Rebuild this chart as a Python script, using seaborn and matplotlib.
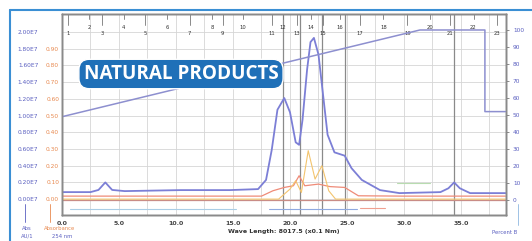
import numpy as np
import pandas as pd
import seaborn as sns
import matplotlib.pyplot as plt
from matplotlib.transforms import blended_transform_factory

# retention time (min) and UV absorbance (AU, x1e7 scale)
uv_time = [0.0, 2.5, 3.2, 3.8, 4.4, 5.5, 10.4, 14.7, 17.2, 17.9, 18.4, 18.9, 19.5,
           20.0, 20.5, 20.8, 21.1, 21.5, 21.8, 22.1, 22.5, 22.9, 23.3, 23.9, 24.8,
           25.4, 26.3, 27.9, 29.6, 33.2, 33.9, 34.4, 34.9, 35.8, 38.9]
uv_abs = [0.084, 0.084, 0.11, 0.20, 0.11, 0.096, 0.108, 0.108, 0.12, 0.23, 0.59, 1.07, 1.21,
          1.04, 0.68, 0.65, 0.95, 1.55, 1.88, 1.93, 1.73, 1.25, 0.77, 0.56, 0.52,
          0.37, 0.23, 0.108, 0.072, 0.084, 0.13, 0.20, 0.13, 0.072, 0.072]

# second channel (orange axis)
ch2_time = [0.0, 17.5, 18.5, 19.5, 20.3, 20.8, 21.3, 22.5, 23.5, 24.8, 26.0, 30.0, 38.9]
ch2_abs = [0.018, 0.018, 0.05, 0.07, 0.08, 0.14, 0.08, 0.09, 0.075, 0.07, 0.02, 0.018, 0.018]

ch3_time = [0.0, 19.0, 20.0, 20.5, 21.0, 21.6, 22.2, 22.8, 23.4, 24.0, 38.9]
ch3_abs = [0.0, 0.0, 0.06, 0.11, 0.04, 0.29, 0.12, 0.20, 0.05, 0.0, 0.0]

# gradient, percent B
grad_time = [0.0, 31.4, 37.1, 37.1, 38.9]
grad_pct = [49, 100, 100, 52, 52]

# fraction marks along the top
frac_time = [0.5, 2.4, 3.5, 5.4, 7.3, 9.2, 11.2, 13.2, 14.1, 15.9, 18.4, 19.4,
             20.6, 21.8, 22.9, 24.4, 26.1, 28.2, 30.3, 32.3, 34.0, 36.1, 38.2]
frac_label = [str(i) for i in range(1, len(frac_time) + 1)]

cut_time = [19.4, 20.9, 22.8, 24.8, 34.4]

left_ticks = [i * 0.2 for i in range(11)]
left_labels = ["%.2fE7" % v for v in left_ticks]
orange_labels = ["%.2f" % (v / 2) for v in left_ticks[:-1]]
right_ticks = list(range(0, 101, 10))
x_ticks = [0, 5, 10, 15, 20, 25, 30, 35]

sns.set_style("white")
plt.rcParams['font.family'] = ['DejaVu Sans']

fig = plt.figure(figsize=(5.32, 2.41), dpi=100)
ax = fig.add_axes([62 / 532, 1 - 215 / 241, 444 / 532, 201 / 241])
ymin, ymax = -0.19, 2.216
ax.set_xlim(0, 38.95)
ax.set_ylim(ymin, ymax)

# grid
for t in np.arange(0, 39, 2.5):
    ax.axvline(t, color="#d6d6d6", lw=0.6, zorder=0)
for v in left_ticks:
    ax.axhline(v, color="#d6d6d6", lw=0.6, zorder=0)
for t in cut_time:
    ax.axvline(t, color="#8a8a8a", lw=0.9, zorder=1)

ax2 = ax.twinx()
ax2.set_ylim(ymin / 2, ymax / 2)
ax3 = ax.twinx()
ax3.set_ylim(-8.8, 109.4)

uv = pd.DataFrame({"t": uv_time, "a": uv_abs})
sns.lineplot(data=uv, x="t", y="a", ax=ax, color="#7c7fd6", lw=1.3, estimator=None, sort=False, zorder=5)
sns.lineplot(x=ch2_time, y=ch2_abs, ax=ax2, color="#ef8b78", lw=0.9, estimator=None, sort=False)
sns.lineplot(x=ch3_time, y=ch3_abs, ax=ax2, color="#f3c46e", lw=0.8, estimator=None, sort=False)
sns.lineplot(x=grad_time, y=grad_pct, ax=ax3, color="#8d8fcf", lw=1.1, estimator=None, sort=False)
ax.axhline(-0.01, color="#c98c86", lw=0.9)
sns.lineplot(x=[0.7, 15.3], y=[-0.12, -0.12], ax=ax, color="#a9cde6", lw=0.8)
sns.lineplot(x=[18.2, 25.9], y=[-0.12, -0.12], ax=ax, color="#8fa9e0", lw=0.8)
sns.lineplot(x=[26.1, 28.3], y=[-0.11, -0.11], ax=ax, color="#f0a090", lw=0.8)
sns.lineplot(x=[29.4, 32.3], y=[0.19, 0.19], ax=ax, color="#b8dcb0", lw=0.8)

# frame
for a in (ax, ax2, ax3):
    for s in a.spines.values():
        s.set_color("#8a8a8a")
        s.set_linewidth(1.0)

ax.set_xticks(x_ticks)
ax.set_xticklabels(["%.1f" % x for x in x_ticks], fontsize=4.5, color="#444444", fontweight="bold")
ax.tick_params(axis="x", length=3, width=0.8, color="#777777", pad=1.5)
ax.set_yticks(left_ticks)
ax.set_yticklabels(left_labels, fontsize=4.2, color="#5a5fc0")
ax.tick_params(axis="y", length=0, pad=17)
ax.set_xlabel("Wave Length: 8017.5 (x0.1 Nm)", fontsize=4.5, color="#333333",
              fontweight="bold", labelpad=2)
ax.set_ylabel("")

ax2.yaxis.tick_left()
ax2.set_yticks([v / 2 for v in left_ticks[:-1]])
ax2.set_yticklabels(orange_labels, fontsize=4.2, color="#e8894f")
ax2.tick_params(axis="y", length=0, pad=2)
ax2.set_ylabel("")

ax3.set_yticks(right_ticks)
ax3.set_yticklabels([str(v) for v in right_ticks], fontsize=4.2, color="#5a5fc0")
ax3.tick_params(axis="y", length=2, width=0.6, color="#777777", pad=3)
ax3.set_ylabel("")

# fraction labels on top
tr = blended_transform_factory(ax.transData, ax.transAxes)
for i, (t, lab) in enumerate(zip(frac_time, frac_label)):
    yy = 0.985 if i % 2 else 0.955
    ax.plot([t, t], [1.0, yy - 0.012], transform=tr, color="#777777", lw=0.6, clip_on=False)
    ax.text(t, yy - 0.05, lab, transform=tr, fontsize=3.8, ha="center", va="center", color="#333333")

# axis captions
fig.text(27 / 532, 1 - 228 / 241, "Abs", fontsize=3.8, color="#5a5fc0", ha="center", va="center")
fig.text(27 / 532, 1 - 236 / 241, "AU/1", fontsize=3.8, color="#5a5fc0", ha="center", va="center")
fig.text(60 / 532, 1 - 228 / 241, "Absorbance", fontsize=3.8, color="#e8894f", ha="center", va="center")
fig.text(62 / 532, 1 - 236 / 241, "254 nm", fontsize=3.8, color="#5a5fc0", ha="center", va="center")
fig.text(505 / 532, 1 - 232 / 241, "Percent B", fontsize=3.8, color="#5a5fc0", ha="center", va="center")
fig.add_artist(plt.Line2D([25 / 532, 25 / 532], [1 - 204 / 241, 1 - 222 / 241], color="#5a5fc0", lw=0.6))
fig.add_artist(plt.Line2D([50 / 532, 50 / 532], [1 - 204 / 241, 1 - 222 / 241], color="#e8894f", lw=0.6))
fig.add_artist(plt.Line2D([518 / 532, 518 / 532], [1 - 204 / 241, 1 - 225 / 241], color="#8fb8e0", lw=0.6))

# outer border
fig.add_artist(plt.Line2D([10 / 532, 1.0], [1 - 10 / 241, 1 - 10 / 241], color="#3b8fd4", lw=1.5))
fig.add_artist(plt.Line2D([10 / 532, 10 / 532], [0.0, 1 - 10 / 241], color="#3b8fd4", lw=1.5))

# badge
fig.text(181 / 532, 1 - 74 / 241, "NATURAL PRODUCTS", fontsize=13.6, fontweight="bold",
         family=["Open Sans", "DejaVu Sans"], color="white", ha="center", va="center",
         bbox=dict(boxstyle="round,pad=0.25,rounding_size=0.55", fc="#1f70b8", ec="white", lw=1.0))

fig.savefig("out.png", dpi=100)
